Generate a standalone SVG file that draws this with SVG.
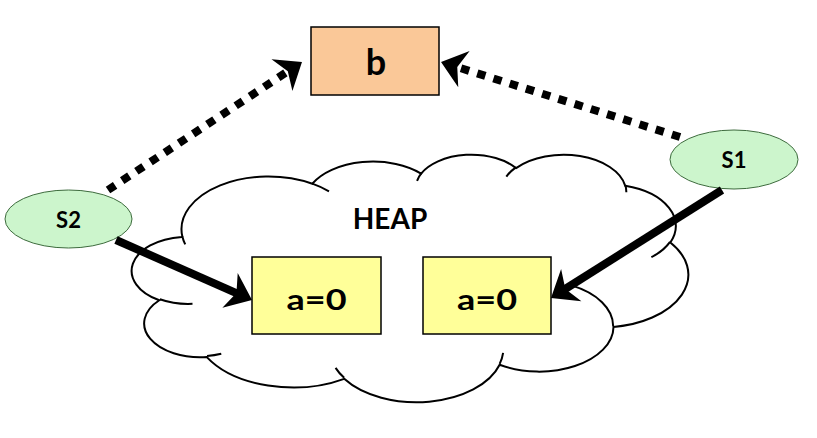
<svg xmlns="http://www.w3.org/2000/svg" width="817" height="438" viewBox="0 0 817 438">
  <style>
    .lbl { font-family: Lato, "Noto Sans", "Liberation Sans", sans-serif; font-weight: bold; fill: #000; text-anchor: middle; }
    .cloud { fill: #fff; stroke: #000; stroke-width: 2; vector-effect: non-scaling-stroke; }
    .hook { fill: none; stroke: #000; stroke-width: 2; vector-effect: non-scaling-stroke; }
    .oval { fill: #CCF5CC; stroke: #3d6b3d; stroke-width: 1; }
    .boxb { fill: #FAC898; stroke: #000; stroke-width: 1.5; }
    .boxa { fill: #FFFF99; stroke: #000; stroke-width: 1.5; }
    .dot { fill: none; stroke: #000; stroke-width: 8; stroke-dasharray: 8.5 8.5; marker-end: url(#ah); }
    .solid { fill: none; stroke: #000; stroke-width: 8; marker-end: url(#ah); }
  </style>
  <defs>
    <marker id="ah" markerUnits="userSpaceOnUse" orient="auto" refX="0" refY="0" markerWidth="40" markerHeight="40" overflow="visible">
      <path d="M14,0 L-10,-19 L-3,0 L-10,19 Z" fill="#000"/>
    </marker>
  </defs>
  <rect width="817" height="438" fill="#fff"/>

  <g id="heap">
    <g transform="translate(132.1,153.9) scale(0.01287,0.005729)">
      <path class="cloud" d="M3900,14370 A6753,9190 0 0 1 14005.6,5202.6 A5333,7267 0 0 1 22456.5,3432.3 A4365,5945 0 0 1 29834.2,2481.3 A4857,6595 0 0 1 38319.8,5575.7 A5333,7273 0 0 1 41820.3,15459.3 A6775,9220 0 0 1 37405.5,30201.1 A5785,7867 0 0 1 28556.9,36811.1 A6752,9215 0 0 1 16481.1,39262.3 A7720,10543 0 0 1 5804.8,35467.8 A4360,5918 0 0 1 2113.1,25545.9 A4345,5945 0 0 1 3862.8,14502.1 Z"/>
      <path class="hook" d="M4693,26177 A4345,5945 0 0 1 2160,25380.2 M6928,34899 A4360,5918 0 0 1 5822.5,35279.1 M16478,39090 A6752,9215 0 0 1 15810.1,37349 M28827,34751 A6752,9215 0 0 1 28560.4,36659.7 M34129,22954 A5785,7867 0 0 1 37378.1,30088.1 M41798,15354 A5333,7273 0 0 1 40348,18032.6 M38324,5426 A4857,6595 0 0 1 38400.4,6689.7 M29078,3952 A4857,6595 0 0 1 29819.2,2341.1 M22141,4720 A4365,5945 0 0 1 22499.9,3330.8 M14000,5192 A6753,9190 0 0 1 15299,6539.5 M4127,15789 A6753,9190 0 0 1 3900.1,14370.1"/>
    </g>
    <text class="lbl" x="390" y="229" font-size="28">HEAP</text>
  </g>

  <g id="node-b">
    <rect class="boxb" x="311" y="27" width="128" height="68"/>
    <text class="lbl" x="376" y="75" font-size="36">b</text>
  </g>

  <g id="node-s2">
    <ellipse class="oval" cx="68.5" cy="219" rx="63.5" ry="29"/>
    <text class="lbl" x="68.5" y="228" font-size="22">S2</text>
  </g>

  <g id="node-s1">
    <ellipse class="oval" cx="734" cy="159.5" rx="64" ry="29.5"/>
    <text class="lbl" x="734" y="168" font-size="22">S1</text>
  </g>

  <g id="node-a1">
    <rect class="boxa" x="252" y="257" width="129" height="77"/>
    <text class="lbl" x="316.5" y="310" font-size="29" textLength="60" lengthAdjust="spacingAndGlyphs">a=0</text>
  </g>

  <g id="node-a2">
    <rect class="boxa" x="423" y="257" width="128" height="77"/>
    <text class="lbl" x="487" y="310" font-size="29" textLength="60" lengthAdjust="spacingAndGlyphs">a=0</text>
  </g>

  <g id="connectors">
    <path class="dot" d="M108,190 L290.3,69.7"/>
    <path class="dot" d="M680,137 L454.4,66.2"/>
    <path class="solid" d="M116,240 L239.2,294.3"/>
    <path class="solid" d="M722,190 L562.8,290.5"/>
  </g>
</svg>
